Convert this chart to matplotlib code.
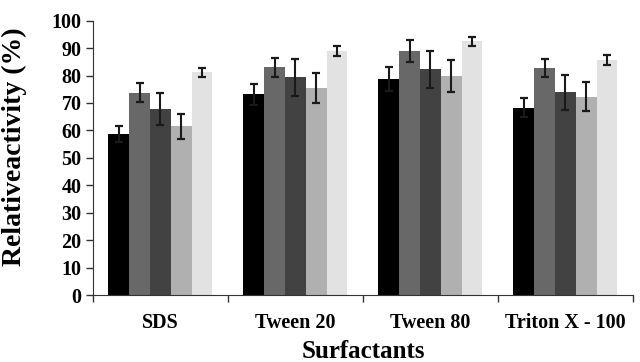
import numpy as np
import matplotlib
matplotlib.use('Agg')
import matplotlib.pyplot as plt

# data
surfactants = ['SDS', 'Tween 20', 'Tween 80', 'Triton X - 100']

series_1 = [58.6, 73.2, 78.6, 68.3]
series_2 = [73.7, 83.0, 89.0, 82.9]
series_3 = [67.7, 79.3, 82.3, 73.9]
series_4 = [61.5, 75.4, 79.8, 72.3]
series_5 = [81.2, 88.9, 92.4, 85.6]

err_1 = [3.0, 3.8, 4.4, 3.5]
err_2 = [3.4, 3.5, 3.9, 3.3]
err_3 = [5.8, 6.8, 6.7, 6.4]
err_4 = [4.5, 5.5, 5.8, 5.2]
err_5 = [1.6, 1.8, 1.8, 1.9]

bar_colors = ['#000000', '#686868', '#424242', '#b0b0b0', '#e2e2e2']

plt.rcParams['font.family'] = ['Liberation Serif', 'DejaVu Serif']
plt.rcParams['font.weight'] = 'bold'

fig = plt.figure(figsize=(6.4, 3.62), dpi=100)
ax = fig.add_axes([0.145, 0.185, 0.844, 0.758])

x = np.arange(len(surfactants))
width = 0.154
all_values = [series_1, series_2, series_3, series_4, series_5]
all_errors = [err_1, err_2, err_3, err_4, err_5]

for i in range(5):
    offset = (i - 2) * width
    ax.bar(x + offset, all_values[i], width, color=bar_colors[i],
           yerr=all_errors[i], capsize=3,
           error_kw={'elinewidth': 1.5, 'capthick': 1.6, 'ecolor': '#1a1a1a'})

ax.set_xlim(-0.5, 3.5)
ax.set_ylim(0, 100)
ax.set_yticks(range(0, 101, 10))

# labels in the middle, tick marks between groups
ax.set_xticks(x)
ax.set_xticklabels(surfactants, fontsize=14.5, fontweight='bold')
ax.tick_params(axis='x', which='major', length=0, pad=13)
ax.set_xticks(np.arange(-0.5, 4.0, 1.0), minor=True)
ax.tick_params(axis='x', which='minor', length=5, width=1, color='#333333', direction='out')
ax.tick_params(axis='y', length=5, width=1, color='#333333', labelsize=14.5, pad=3)
for lab in ax.get_yticklabels():
    lab.set_fontweight('bold')

ax.spines['top'].set_visible(False)
ax.spines['right'].set_visible(False)
ax.spines['left'].set_color('#333333')
ax.spines['bottom'].set_color('#333333')

ax.set_xlabel('Surfactants', fontsize=18, fontweight='bold', labelpad=5)
ax.set_ylabel('Relativeactivity (%)', fontsize=20, fontweight='bold')
ax.yaxis.set_label_coords(-0.122, 0.54)

fig.savefig('out.png', dpi=100)
